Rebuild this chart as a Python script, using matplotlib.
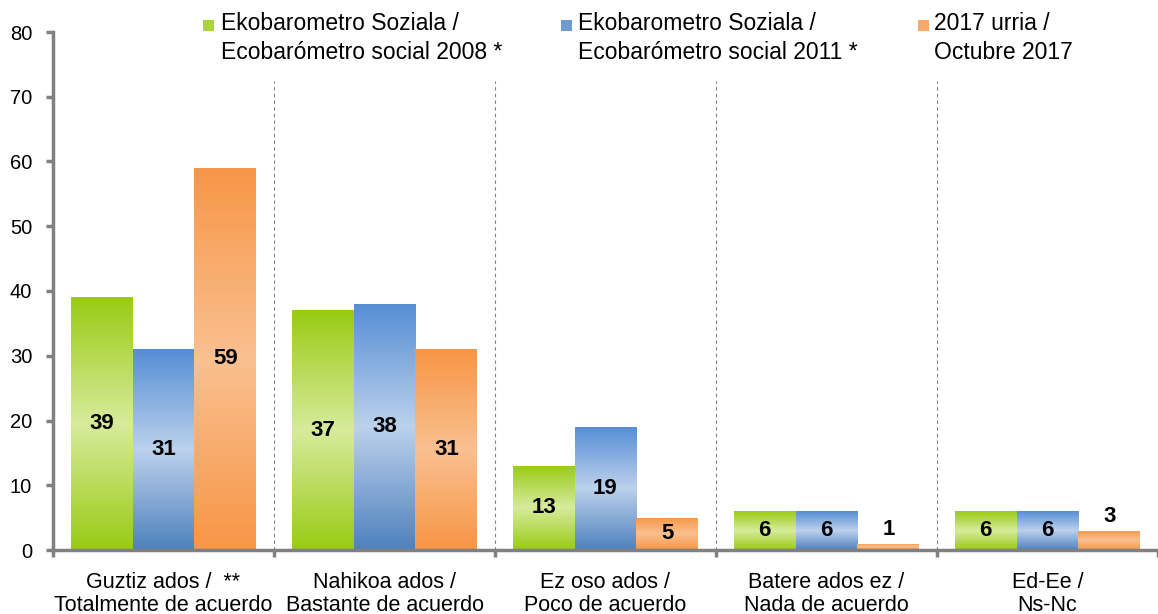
import matplotlib.pyplot as plt
import numpy as np
from matplotlib.colors import LinearSegmentedColormap
from matplotlib.patches import Rectangle

# data
categories = ["Guztiz ados /  **\nTotalmente de acuerdo",
              "Nahikoa ados /\nBastante de acuerdo",
              "Ez oso ados /\nPoco de acuerdo",
              "Batere ados ez /\nNada de acuerdo",
              "Ed-Ee /\nNs-Nc"]
series_names = ["Ekobarometro Soziala /\nEcobarómetro social 2008 *",
                "Ekobarometro Soziala /\nEcobarómetro social 2011 *",
                "2017 urria /\nOctubre 2017"]
v2008 = [39, 37, 13, 6, 6]
v2011 = [31, 38, 19, 6, 6]
v2017 = [59, 31, 5, 1, 3]
values = [v2008, v2011, v2017]

# gradient colours per series: bottom, middle, top
grads = [["#99CB14", "#D7EB9C", "#99CB14"],
         ["#4F81BD", "#BCD1EC", "#558ED5"],
         ["#F79646", "#FAC090", "#F79646"]]
legend_cols = ["#A9D43A", "#6F9AD2", "#F8A96A"]
legend_x = [203, 561, 918]  # px, marker left edge
legend_tx = [221, 578, 934]  # px, text left edge

plt.rcParams['font.family'] = ['Liberation Sans', 'DejaVu Sans']

W, H = 1158, 614
fig = plt.figure(figsize=(W / 100, H / 100), dpi=100)
ax = fig.add_axes([53 / W, 1 - 550 / H, (W - 53) / W, (550 - 32) / H])

x = np.arange(len(categories))
w = 0.28
grad = np.linspace(0, 1, 256).reshape(-1, 1)
for i, vals in enumerate(values):
    cmap = LinearSegmentedColormap.from_list("g%d" % i, grads[i])
    bars = ax.bar(x + (i - 1) * w, vals, w, color="none", edgecolor="none")
    for b in bars:
        bx, by = b.get_x(), b.get_y()
        im = ax.imshow(grad, cmap=cmap, origin="lower", aspect="auto",
                       extent=(bx, bx + b.get_width(), by, by + b.get_height()),
                       zorder=2)
        im.set_clip_path(b)
    for xi, v in zip(x, vals):
        if v >= 5:
            ax.text(xi + (i - 1) * w, v / 2, str(v), ha="center", va="center",
                    fontsize=16, fontweight="bold", zorder=4)
        else:
            ax.text(xi + (i - 1) * w, v + 0.5, str(v), ha="center", va="bottom",
                    fontsize=16, fontweight="bold", zorder=4)

ax.vlines(x[:-1] + 0.5, 0, 72.5, colors="#808080", linestyles=(0, (3, 3)), lw=0.8)

ax.set_xlim(-0.5, 4.5 - 10 / 223)
ax.set_ylim(0, 80)
ax.set_yticks(range(0, 81, 10))
ax.set_xticks(x)
ax.set_xticklabels(categories, fontsize=15.5, linespacing=1.12)
ax.set_xticks(np.arange(-0.5, 5, 1), minor=True)
ax.tick_params(axis="x", which="major", length=0, pad=16)
ax.tick_params(axis="x", which="minor", length=5, width=2.5, color="#808080")
ax.tick_params(axis="y", length=5, width=2.5, color="#808080", labelsize=14.5, pad=10)
for s in ["top", "right"]:
    ax.spines[s].set_visible(False)
for s in ["left", "bottom"]:
    ax.spines[s].set_color("#808080")
    ax.spines[s].set_linewidth(2.5)

# legend drawn by hand: marker beside first text line
for lx, tx, name, col in zip(legend_x, legend_tx, series_names, legend_cols):
    fig.patches.append(Rectangle((lx / W, 1 - 31 / H), 11 / W, 11 / H, transform=fig.transFigure,
                                 facecolor=col, edgecolor="none"))
    fig.text(tx / W, 1 - 12 / H, name, ha="left", va="top", fontsize=16.5,
             linespacing=1.32)

fig.savefig("out.png", dpi=100)
